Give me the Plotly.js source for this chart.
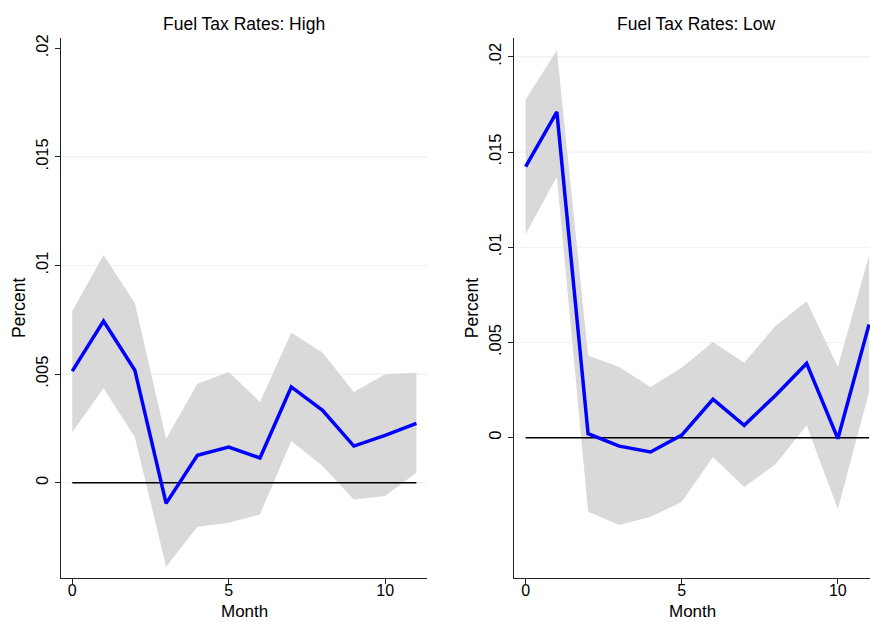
<!DOCTYPE html>
<html>
<head>
<meta charset="utf-8">
<script src="https://cdn.plot.ly/plotly-3.0.1.min.js"></script>
<style>html,body{margin:0;padding:0;background:#fff;}#chart{width:870px;height:622px;}</style>
</head>
<body>
<div id="chart"></div>
<script>
// Months
const months = [0,1,2,3,4,5,6,7,8,9,10,11];

// Panel 1: Fuel Tax Rates: High
const highMean  = [0.00514,0.00744,0.00518,-0.00095,0.00126,0.00164,0.00114,0.00441,0.00333,0.00169,0.00218,0.00273];
const highUpper = [0.00790,0.01048,0.00827,0.00203,0.00456,0.00510,0.00372,0.00690,0.00599,0.00418,0.00499,0.00506];
const highLower = [0.00233,0.00435,0.00210,-0.00387,-0.00203,-0.00184,-0.00146,0.00192,0.00077,-0.00077,-0.00061,0.00046];

// Panel 2: Fuel Tax Rates: Low
const lowMean  = [0.01423,0.01711,0.00021,-0.00044,-0.00075,0.00014,0.00202,0.00065,0.00222,0.00390,-0.00005,0.00595];
const lowUpper = [0.01776,0.02035,0.00432,0.00371,0.00266,0.00367,0.00502,0.00394,0.00586,0.00717,0.00371,0.00958];
const lowLower = [0.01068,0.01370,-0.00388,-0.00458,-0.00415,-0.00338,-0.00101,-0.00259,-0.00140,0.00065,-0.00376,0.00240];

// Tick labels
const xTickVals = [0,5,10];
const xTickText = ['0','5','10'];
const yTickVals = [0,0.005,0.01,0.015,0.02];
const yTickText = ['0','.005','.01','.015','.02'];
const gridHigh = [0,0.005,0.01,0.015];
const gridLow  = [0,0.005,0.01,0.015,0.02];

const titles = ['Fuel Tax Rates: High','Fuel Tax Rates: Low'];
const xTitle = 'Month';
const yTitle = 'Percent';

const bandColor = '#d9d9d9';
const lineColor = '#0000ff';
const FAM = 'Liberation Sans, Arial, sans-serif';
const tickFont = {family:FAM, size:16.5, color:'#000'};
const xTickFont = {family:FAM, size:16, color:'#000'};
const labFont = {family:FAM, size:17.5, color:'#000'};
const monthFont = {family:FAM, size:17, color:'#000'};

function panelTraces(mean, upper, lower, xa, ya){
  return [
    {x: months, y: lower, xaxis: xa, yaxis: ya, type:'scatter', mode:'lines',
     line:{width:0, color:bandColor}, hoverinfo:'skip', showlegend:false},
    {x: months, y: upper, xaxis: xa, yaxis: ya, type:'scatter', mode:'lines',
     fill:'tonexty', fillcolor:bandColor, line:{width:0, color:bandColor}, hoverinfo:'skip', showlegend:false},
    {x: [months[0], months[months.length-1]], y: [0,0], xaxis: xa, yaxis: ya, type:'scatter', mode:'lines',
     line:{width:1.5, color:'#000'}, showlegend:false},
    {x: months, y: mean, xaxis: xa, yaxis: ya, type:'scatter', mode:'lines',
     line:{width:3.5, color:lineColor}, showlegend:false}
  ];
}

const data = [].concat(
  panelTraces(highMean, highUpper, highLower, 'x', 'y'),
  panelTraces(lowMean, lowUpper, lowLower, 'x2', 'y2')
);

function xAxis(domain, range, anchor){
  return {domain: domain, range: range, anchor: anchor, tickmode:'array', tickvals: xTickVals, ticktext: xTickText,
    showline:true, linecolor:'#222', linewidth:1.2, ticks:'outside', ticklen:5, tickcolor:'#222', tickwidth:1,
    ticklabelstandoff:-7,
    showgrid:false, zeroline:false, tickfont: xTickFont};
}
function yAxis(domain, range, anchor){
  return {domain: domain, range: range, anchor: anchor, tickmode:'array', tickvals: yTickVals, ticktext: yTickText,
    tickangle:-90, showline:true, linecolor:'#222', linewidth:1.2, ticks:'outside', ticklen:5, tickcolor:'#222', tickwidth:1,
    showgrid:false, zeroline:false, tickfont: tickFont,
    title:{text: yTitle, font: labFont, standoff: 3}};
}

const shapes = [];
gridHigh.forEach(v => shapes.push({type:'line', xref:'x domain', yref:'y', x0:0, x1:1, y0:v, y1:v,
  line:{color:'#eaf2f3', width:1.2}, layer:'below'}));
gridLow.forEach(v => shapes.push({type:'line', xref:'x2 domain', yref:'y2', x0:0, x1:1, y0:v, y1:v,
  line:{color:'#eaf2f3', width:1.2}, layer:'below'}));

const layout = {
  width: 870, height: 622,
  margin:{l:0, r:0, t:0, b:0},
  paper_bgcolor:'#fff', plot_bgcolor:'#fff',
  showlegend:false,
  font: tickFont,
  xaxis: xAxis([0.0701, 0.4905], [-0.36, 11.33], 'y'),
  yaxis: yAxis([0.0712, 0.9389], [-0.00437, 0.02047], 'x'),
  xaxis2: xAxis([0.5911, 1.0], [-0.365, 11.03], 'y2'),
  yaxis2: yAxis([0.0712, 0.9384], [-0.00735, 0.02097], 'x2'),
  shapes: shapes,
  annotations: [
    {text: titles[0], xref:'paper', yref:'paper', x:0.2805, y:0.9614, xanchor:'center', yanchor:'middle', showarrow:false, font: labFont},
    {text: titles[1], xref:'paper', yref:'paper', x:0.8, y:0.9614, xanchor:'center', yanchor:'middle', showarrow:false, font: labFont},
    {text: xTitle, xref:'paper', yref:'paper', x:0.2805, y:0, xanchor:'center', yanchor:'bottom', showarrow:false, font: monthFont, borderpad:0},
    {text: xTitle, xref:'paper', yref:'paper', x:0.7955, y:0, xanchor:'center', yanchor:'bottom', showarrow:false, font: monthFont, borderpad:0}
  ]
};

Plotly.newPlot('chart', data, layout, {displayModeBar:false, staticPlot:true});
</script>
</body>
</html>
